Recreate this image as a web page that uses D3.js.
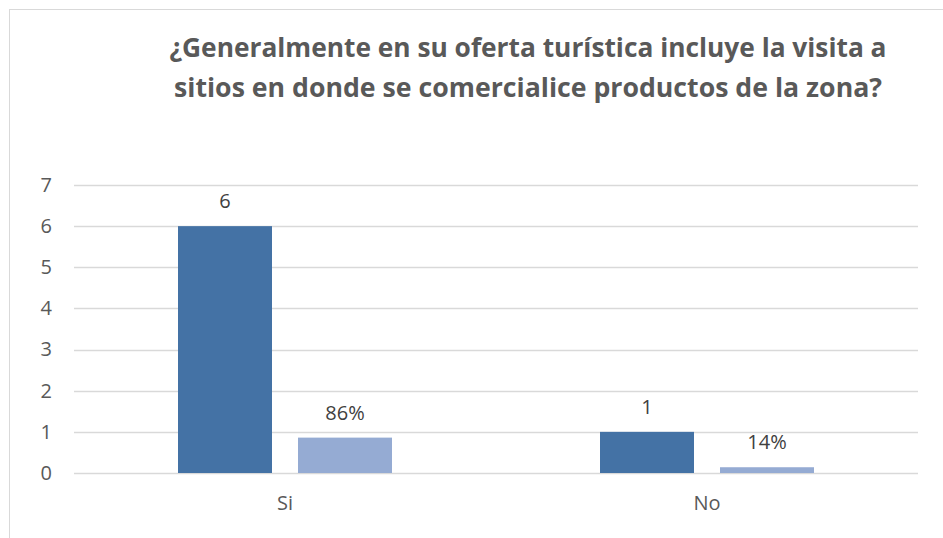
<!DOCTYPE html>
<html>
<head>
<meta charset="utf-8">
<script src="https://cdn.jsdelivr.net/npm/d3@7/dist/d3.min.js"></script>
<style>
  html, body { margin: 0; padding: 0; background: #fff; }
  svg { display: block; }
</style>
</head>
<body>
<svg id="chart" width="943" height="538"></svg>
<script>
// Survey answers: count of responses and share of total
const categories = ["Si", "No"];
const counts = [6, 1];
const shares = [0.86, 0.14];
const shareLabels = ["86%", "14%"];
const yTicks = [0, 1, 2, 3, 4, 5, 6, 7];
const titleLines = [
  "¿Generalmente en su oferta turística incluye la visita a",
  "sitios en donde se comercialice productos de la zona?"
];

const svg = d3.select("#chart");
const W = 943, H = 538;
const font = "'Open Sans', 'Noto Sans', sans-serif";

// Outer chart frame
svg.append("rect")
  .attr("x", 9.5).attr("y", 9.5)
  .attr("width", W + 10).attr("height", H + 10)
  .attr("fill", "#fff").attr("stroke", "#d9d9d9").attr("stroke-width", 1);

const plot = { left: 74, right: 918, top: 185, bottom: 473 };

const x = d3.scaleBand()
  .domain(categories)
  .range([plot.left, plot.right]);

const y = d3.scaleLinear()
  .domain([0, 7])
  .range([plot.bottom, plot.top]);

// Gridlines
svg.append("g")
  .selectAll("line")
  .data(yTicks)
  .join("line")
  .attr("x1", plot.left).attr("x2", plot.right)
  .attr("y1", d => Math.round(y(d)) + 0.5)
  .attr("y2", d => Math.round(y(d)) + 0.5)
  .attr("stroke", "#d9d9d9").attr("stroke-width", 1.3);

// Y axis labels
const yAxis = d3.axisLeft(y).tickValues(yTicks).tickSize(0).tickPadding(0).tickFormat(d3.format("d"));
const gy = svg.append("g").attr("transform", `translate(52,0)`).call(yAxis);
gy.select(".domain").remove();
gy.selectAll("text")
  .attr("fill", "#595959")
  .style("font-family", font)
  .style("font-size", "20px");

// X axis labels
const xAxis = d3.axisBottom(x).tickSize(0).tickPadding(0);
const gx = svg.append("g").attr("transform", `translate(0,${plot.bottom + 23})`).call(xAxis);
gx.select(".domain").remove();
gx.selectAll("text")
  .attr("fill", "#595959")
  .style("font-family", font)
  .style("font-size", "20px");

// Bars within each category
const barW = 94, gap = 26;
const inner = d3.scaleOrdinal().domain(["count", "share"])
  .range([-gap / 2 - barW, gap / 2]);

const rows = categories.map((c, i) => ({ cat: c, count: counts[i], share: shares[i], shareLabel: shareLabels[i] }));

const bars = [];
rows.forEach(r => {
  bars.push({ cat: r.cat, key: "count", value: r.count, label: String(r.count), color: "#4472a5" });
  bars.push({ cat: r.cat, key: "share", value: r.share, label: r.shareLabel, color: "#95abd3" });
});

svg.append("g")
  .selectAll("rect")
  .data(bars)
  .join("rect")
  .attr("x", d => x(d.cat) + x.bandwidth() / 2 + inner(d.key))
  .attr("width", barW)
  .attr("y", d => y(d.value))
  .attr("height", d => y(0) - y(d.value))
  .attr("fill", d => d.color);

// Value labels above bars
svg.append("g")
  .selectAll("text")
  .data(bars)
  .join("text")
  .attr("x", d => x(d.cat) + x.bandwidth() / 2 + inner(d.key) + barW / 2)
  .attr("y", d => y(d.value) - 18)
  .attr("text-anchor", "middle")
  .attr("fill", "#404040")
  .style("font-family", font)
  .style("font-size", "20px")
  .text(d => d.label);

// Title
svg.append("g")
  .selectAll("text")
  .data(titleLines)
  .join("text")
  .attr("x", 528)
  .attr("y", (d, i) => 57 + i * 40)
  .attr("text-anchor", "middle")
  .attr("fill", "#595959")
  .attr("font-weight", "bold")
  .attr("textLength", (d, i) => i === 0 ? 717 : 708)
  .attr("lengthAdjust", "spacingAndGlyphs")
  .style("font-family", font)
  .style("font-size", "27px")
  .text(d => d);
</script>
</body>
</html>
